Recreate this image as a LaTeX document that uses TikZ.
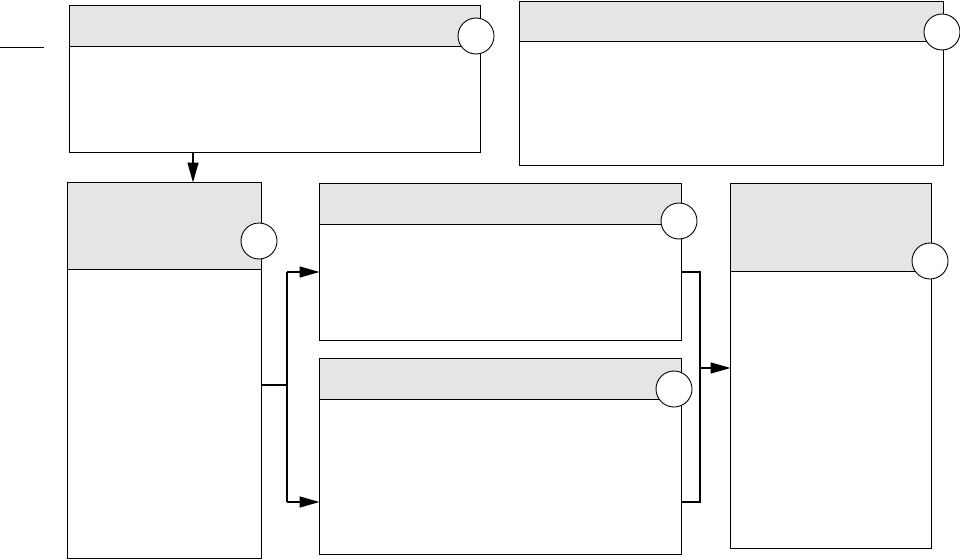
\documentclass[tikz,border=0pt]{standalone}
\usetikzlibrary{arrows.meta}
\definecolor{hdrgray}{RGB}{229,229,229}
\tikzset{
  box/.style={draw, line width=1pt, fill=white, rectangle, inner sep=0pt, outer sep=0pt, anchor=north west},
  hdr/.style={draw, line width=1pt, fill=hdrgray, rectangle, inner sep=0pt, outer sep=0pt, anchor=north west},
  dot/.style={draw, line width=0.9pt, fill=white, circle, inner sep=0pt, outer sep=0pt, minimum size=36pt},
  conn/.style={line width=1.5pt},
  arr/.style={line width=1.5pt, -{Triangle[length=20pt,width=11pt]}}
}
\begin{document}
\begin{tikzpicture}[x=1pt,y=-1pt]
\useasboundingbox (0,0) rectangle (960,559);
% box A
\node[box, minimum width=411pt, minimum height=146pt] (A) at (69.5,6) {};
\node[hdr, minimum width=411pt, minimum height=41pt] (Ah) at (69.5,6) {};
\node[dot] (Ac) at (476,36) {};
% box B
\node[box, minimum width=424pt, minimum height=163.5pt] (B) at (519.5,1.5) {};
\node[hdr, minimum width=424pt, minimum height=40pt] (Bh) at (519.5,1.5) {};
\node[dot] (Bc) at (942,32) {};
% box C
\node[box, minimum width=194pt, minimum height=376pt] (C) at (67.5,182.5) {};
\node[hdr, minimum width=194pt, minimum height=87pt] (Ch) at (67.5,182.5) {};
\node[dot] (Cc) at (259,241) {};
% box D
\node[box, minimum width=362pt, minimum height=157pt] (D) at (319.5,183.5) {};
\node[hdr, minimum width=362pt, minimum height=41pt] (Dh) at (319.5,183.5) {};
\node[dot] (Dc) at (679,221) {};
% box E
\node[box, minimum width=362pt, minimum height=196pt] (E) at (319.5,358.5) {};
\node[hdr, minimum width=362pt, minimum height=41pt] (Eh) at (319.5,358.5) {};
\node[dot] (Ec) at (674,389) {};
% box F
\node[box, minimum width=201pt, minimum height=365pt] (F) at (730.5,183.5) {};
\node[hdr, minimum width=201pt, minimum height=88pt] (Fh) at (730.5,183.5) {};
\node[dot] (Fc) at (930,261) {};
% small line at left
\coordinate (s1) at (0,48);
\coordinate (s2) at (44,48);
\draw[line width=1pt] (s1) -- (s2);
% A -> C
\coordinate (a1) at (193,152);
\draw[arr] (a1) -- (a1 |- C.north);
% C -> D, E
\coordinate (c1) at (261.5,385);
\coordinate (j1) at (287,385);
\coordinate (d1) at (287,272);
\coordinate (e1) at (287,502);
\draw[conn] (C.east |- c1) -- (j1);
\draw[conn] (j1) -- (d1);
\draw[conn] (j1) -- (e1);
\draw[arr] (d1) -- (d1 -| D.west);
\draw[arr] (e1) -- (e1 -| E.west);
% D, E -> F
\coordinate (d2) at (700,272);
\coordinate (e2) at (700,502);
\coordinate (f1) at (700,368);
\draw[conn] (D.east |- d2) -- (d2) -- (e2) -- (E.east |- e2);
\draw[arr] (f1) -- (f1 -| F.west);
\end{tikzpicture}
\end{document}
